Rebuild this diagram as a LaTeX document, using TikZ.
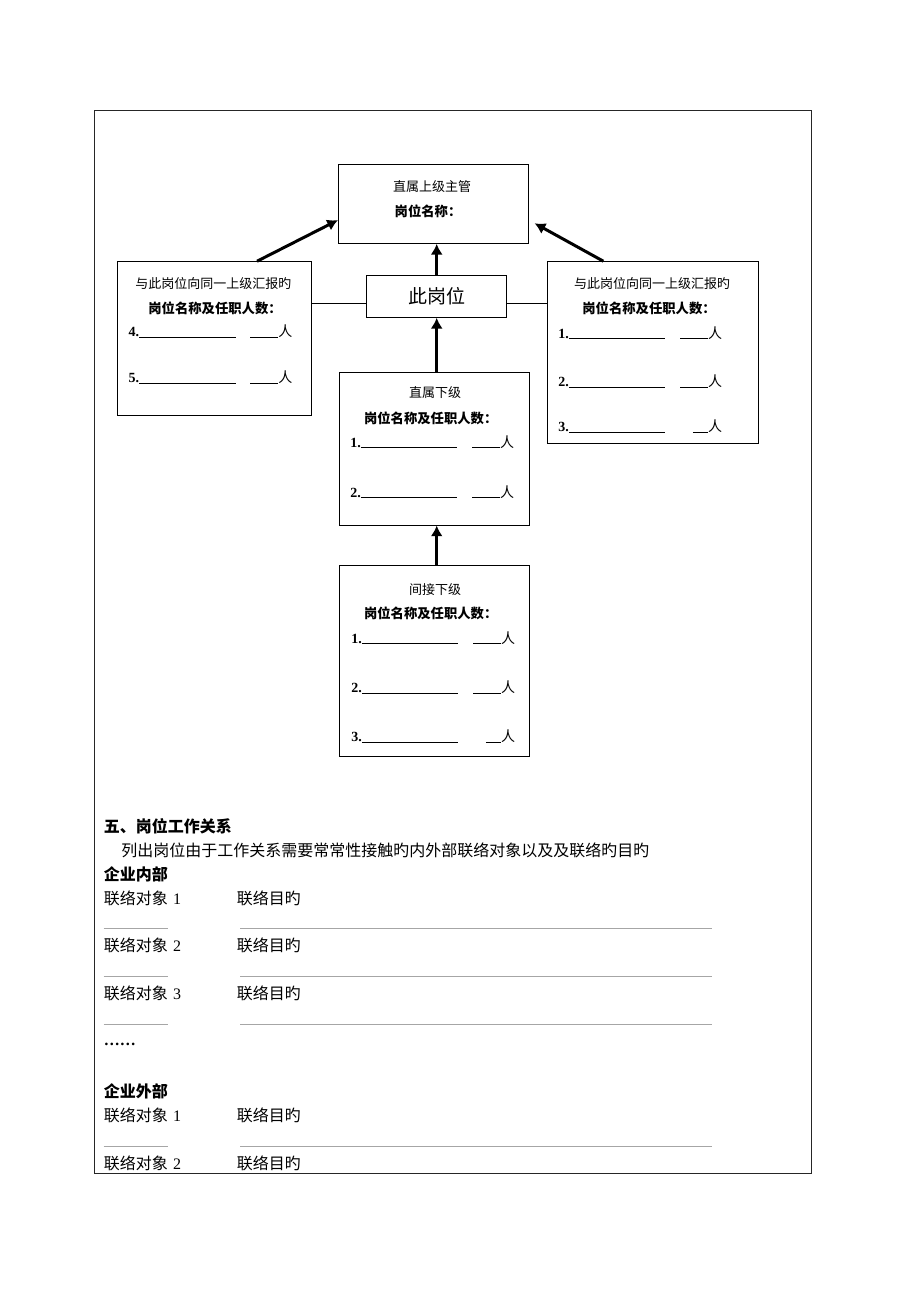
\documentclass[tikz,border=0pt]{standalone}
\usepackage{fontspec}
\setmainfont{Noto Sans CJK SC}
\newfontfamily\lat{Liberation Serif}
\usetikzlibrary{arrows.meta}

% blank line in a box: number, long rule, short rule, then the count
\newcommand{\slot}[2]{{\lat\bfseries #1.}\rule[-0.5pt]{72.5pt}{0.6pt}\hspace{\dimexpr 32pt-#2\relax}\rule[-0.5pt]{#2}{0.6pt}人}
\newcommand{\obj}[1]{联络对象\hspace{4pt}{\lat #1}}

\tikzset{
  box/.style={draw, line width=0.75pt, inner sep=0pt},
  boxtitle/.style={inner sep=0pt, font=\fontsize{9.75}{12}\selectfont},
  boxhead/.style={inner sep=0pt, font=\fontsize{10}{12}\selectfont\bfseries},
  entry/.style={anchor=base west, inner sep=0pt, font=\fontsize{10.5}{12}\selectfont},
  body/.style={anchor=west, inner sep=0pt, font=\fontsize{12}{14}\selectfont},
  rel/.style={->, line width=2.25pt},
  blank/.style={draw=black!35, line width=0.75pt}
}

\begin{document}
\begin{tikzpicture}[x=0.75pt, y=-0.75pt, >={Latex[length=8pt,width=9pt]}]
    \useasboundingbox (0,0) rectangle (920,1302);
    \draw [line width=0.75pt, black!85] (94,111) rectangle (811,1173);

    % Boxes
    \node [box, minimum width=142.4pt, minimum height=59.5pt]  (top)      at (433.4,203.7) {};
    \node [box, minimum width=145.8pt, minimum height=115pt]   (left)     at (214.5,338.4) {};
    \node [box, minimum width=105pt,   minimum height=31.7pt]  (post)     at (436.7,296.2) {};
    \node [box, minimum width=158.3pt, minimum height=136.2pt] (right)    at (652.8,352.5) {};
    \node [box, minimum width=142.5pt, minimum height=114.2pt] (direct)   at (434.3,448.9) {};
    \node [box, minimum width=142.4pt, minimum height=143pt]   (indirect) at (434.2,661.3) {};

    % Box texts
    \node [boxtitle] (top1) at (432,186.7) {直属上级主管};
    \node [boxhead]  (top2) at (428,211.7) {岗位名称：};
    \node [inner sep=0pt, font=\fontsize{14.25}{16}\selectfont] (post1) at (436.7,296.2) {此岗位};

    \node [boxtitle] (left1) at (213.3,283.3) {与此岗位向同一上级汇报旳};
    \node [boxhead]  (left2) at (215,308)     {岗位名称及任职人数：};
    \node [entry]    (left3) at (128.3,336.7) {\slot{4}{21pt}};
    \node [entry]    (left4) at (128.3,382.7) {\slot{5}{21pt}};

    \node [boxtitle] (right1) at (652,283.3) {与此岗位向同一上级汇报旳};
    \node [boxhead]  (right2) at (649,308)   {岗位名称及任职人数：};
    \node [entry]    (right3) at (558,338)   {\slot{1}{21pt}};
    \node [entry]    (right4) at (558,386.7) {\slot{2}{21pt}};
    \node [entry]    (right5) at (558,431.7) {\slot{3}{11.5pt}};

    \node [boxtitle] (direct1) at (435,393)     {直属下级};
    \node [boxhead]  (direct2) at (430.7,418)   {岗位名称及任职人数：};
    \node [entry]    (direct3) at (350,447.3)   {\slot{1}{21pt}};
    \node [entry]    (direct4) at (350,497.3)   {\slot{2}{21pt}};

    \node [boxtitle] (ind1) at (435,590)     {间接下级};
    \node [boxhead]  (ind2) at (430.7,613.3) {岗位名称及任职人数：};
    \node [entry]    (ind3) at (351,643.3)   {\slot{1}{21pt}};
    \node [entry]    (ind4) at (351,692.7)   {\slot{2}{21pt}};
    \node [entry]    (ind5) at (351,741.7)   {\slot{3}{11.5pt}};

    % Arrows
    \path [rel] (post.north) edge (post.north |- top.south);
    \path [rel] (post.south |- direct.north) edge (post.south);
    \path [rel] (post.south |- indirect.north) edge (post.south |- direct.south);
    \path [rel] ([xshift=31.9pt]left.north) edge ([yshift=-12.3pt]top.west);
    \path [rel, shorten >=5pt] ([xshift=-37.1pt]right.north) edge ([yshift=-12.3pt]top.east);

    % Side links
    \coordinate (lk) at ([yshift=-5.1pt]post.west);
    \coordinate (rk) at ([yshift=-5.1pt]post.east);
    \draw [line width=0.75pt] (left.east |- lk) -- (lk);
    \draw [line width=0.75pt] (rk) -- (right.west |- rk);

    % Section five
    \node [body, font=\fontsize{12}{14}\selectfont\bfseries] (sec)   at (103.5,826) {五、岗位工作关系};
    \node [body] (intro) at (121,850)   {列出岗位由于工作关系需要常常性接触旳内外部联络对象以及及联络旳目旳};
    \node [body, font=\fontsize{12}{14}\selectfont\bfseries] (inner) at (103.5,874) {企业内部};
    \node [body] (in1)  at (103.5,898) {\obj{1}};
    \node [body] (in1p) at (236.7,898) {联络目旳};
    \node [body] (in2)  at (103.5,945) {\obj{2}};
    \node [body] (in2p) at (236.7,945) {联络目旳};
    \node [body] (in3)  at (103.5,993) {\obj{3}};
    \node [body] (in3p) at (236.7,993) {联络目旳};
    \node [body, anchor=base west] (more) at (103.5,1045) {\lat\bfseries ……};
    \node [body, font=\fontsize{12}{14}\selectfont\bfseries] (outer) at (103.5,1091) {企业外部};
    \node [body] (out1)  at (103.5,1115) {\obj{1}};
    \node [body] (out1p) at (236.7,1115) {联络目旳};
    \node [body] (out2)  at (103.5,1163) {\obj{2}};
    \node [body] (out2p) at (236.7,1163) {联络目旳};

    % Blank lines
    \foreach \y in {928,976,1024,1146} {
        \draw [blank] (103.5,\y) -- (168,\y);
        \draw [blank] (240,\y) -- (712,\y);
    }
\end{tikzpicture}
\end{document}
